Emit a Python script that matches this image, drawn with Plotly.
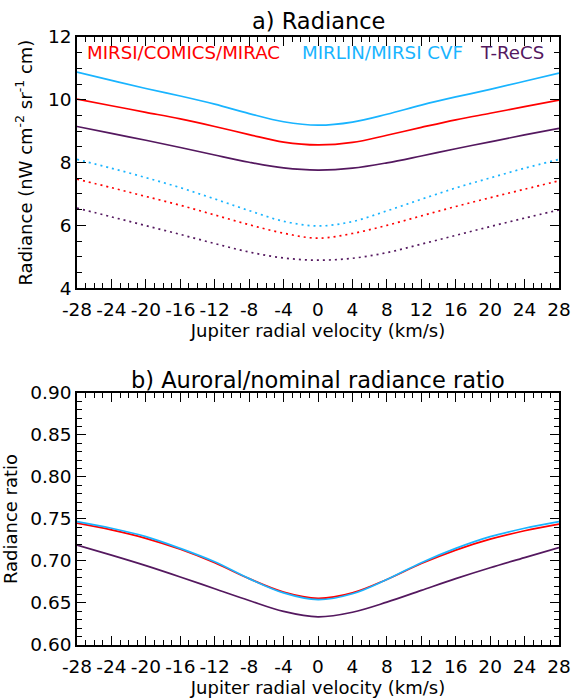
import plotly.graph_objects as go

# Jupiter radial velocity (km/s)
velocity = [-28, -24, -20, -16, -12, -8, -4, 0, 4, 8, 12, 16, 20, 24, 28]

# a) Radiance (nW cm^-2 sr^-1 cm): solid (upper set) and dotted (lower set)
mirsi_solid = [10.02, 9.81, 9.60, 9.39, 9.15, 8.89, 8.65, 8.56, 8.64, 8.87, 9.12, 9.36, 9.57, 9.78, 9.99]
mirlin_solid = [10.88, 10.62, 10.36, 10.12, 9.86, 9.56, 9.30, 9.19, 9.29, 9.54, 9.83, 10.09, 10.33, 10.59, 10.85]
trecs_solid = [9.15, 8.93, 8.71, 8.48, 8.24, 8.01, 7.83, 7.76, 7.82, 7.99, 8.21, 8.44, 8.66, 8.88, 9.09]

mirsi_dot = [7.47, 7.20, 6.92, 6.64, 6.33, 6.02, 5.75, 5.59, 5.74, 6.00, 6.30, 6.60, 6.88, 7.15, 7.42]
mirlin_dot = [8.10, 7.82, 7.52, 7.20, 6.84, 6.47, 6.13, 5.98, 6.12, 6.46, 6.83, 7.19, 7.51, 7.82, 8.10]
trecs_dot = [6.55, 6.27, 5.99, 5.71, 5.42, 5.15, 4.96, 4.89, 4.95, 5.13, 5.40, 5.68, 5.96, 6.23, 6.49]

# b) Auroral/nominal radiance ratio
mirsi_ratio = [0.745, 0.737, 0.727, 0.714, 0.698, 0.679, 0.663, 0.6555, 0.662, 0.678, 0.697, 0.713, 0.726, 0.736, 0.744]
mirlin_ratio = [0.747, 0.739, 0.729, 0.715, 0.699, 0.679, 0.662, 0.654, 0.661, 0.678, 0.698, 0.715, 0.729, 0.739, 0.747]
trecs_ratio = [0.719, 0.707, 0.6945, 0.681, 0.667, 0.653, 0.640, 0.6335, 0.639, 0.651, 0.665, 0.679, 0.692, 0.704, 0.716]

x_ticks = [-28, -24, -20, -16, -12, -8, -4, 0, 4, 8, 12, 16, 20, 24, 28]
y1_ticks = [4, 6, 8, 10, 12]
y2_ticks = [0.60, 0.65, 0.70, 0.75, 0.80, 0.85, 0.90]

legend_labels = ["MIRSI/COMICS/MIRAC", "MIRLIN/MIRSI CVF", "T-ReCS"]

RED = "#FF0000"
CYAN = "#19B4FF"
PURPLE = "#54185F"
FONT = "DejaVu Sans, Verdana, sans-serif"
TICK_SIZE = 18.5
TITLE_SIZE = 18
HEAD_SIZE = 22.5
LEG_SIZE = 18.2

fig = go.Figure()


def add(y, color, dash, xa, ya):
    fig.add_trace(go.Scatter(x=velocity, y=y, mode="lines",
                             line=dict(color=color, width=1.7, dash=dash, shape="spline", smoothing=1.0),
                             xaxis=xa, yaxis=ya, showlegend=False, hoverinfo="skip"))


DOT = "2px,4px"
add(mirlin_solid, CYAN, "solid", "x", "y")
add(mirsi_solid, RED, "solid", "x", "y")
add(trecs_solid, PURPLE, "solid", "x", "y")
add(mirlin_dot, CYAN, DOT, "x", "y")
add(mirsi_dot, RED, DOT, "x", "y")
add(trecs_dot, PURPLE, DOT, "x", "y")

add(mirsi_ratio, RED, "solid", "x2", "y2")
add(mirlin_ratio, CYAN, "solid", "x2", "y2")
add(trecs_ratio, PURPLE, "solid", "x2", "y2")

axis_common = dict(
    showline=True, linecolor="black", linewidth=1.5, mirror="allticks",
    ticks="inside", ticklen=9, tickwidth=1.2, tickcolor="black",
    showgrid=False, zeroline=False, automargin=False,
    tickfont=dict(family=FONT, size=TICK_SIZE, color="black"),
)

xaxis_common = dict(axis_common, range=[-28, 28], tickvals=x_ticks,
                    ticktext=[str(v) for v in x_ticks],
                    ticklabelstandoff=4,
                    minor=dict(dtick=1, ticklen=5, tickwidth=1, tickcolor="black", ticks="inside"),
                    title=dict(text="Jupiter radial velocity (km/s)",
                               font=dict(family=FONT, size=TITLE_SIZE, color="black"), standoff=0))

fig.update_layout(
    width=582, height=699,
    margin=dict(l=77, r=23, t=37, b=54),
    paper_bgcolor="white", plot_bgcolor="white",
    font=dict(family=FONT, color="black"),
    xaxis=dict(xaxis_common, domain=[0, 1], anchor="y"),
    yaxis=dict(axis_common, domain=[0.587, 1.0], anchor="x", range=[4, 12],
               tickvals=y1_ticks, ticktext=[str(v) for v in y1_ticks],
               minor=dict(dtick=0.5, ticklen=5, tickwidth=1, tickcolor="black", ticks="inside"),
               title=dict(text="Radiance (nW cm<sup>-2</sup> sr<sup>-1</sup> cm)",
                          font=dict(family=FONT, size=TITLE_SIZE, color="black"), standoff=11)),
    xaxis2=dict(xaxis_common, domain=[0, 1], anchor="y2"),
    yaxis2=dict(axis_common, domain=[0.0, 0.4145], anchor="x2", range=[0.60, 0.90],
                tickvals=y2_ticks, ticktext=["%.2f" % v for v in y2_ticks],
                minor=dict(dtick=0.01, ticklen=5, tickwidth=1, tickcolor="black", ticks="inside"),
                title=dict(text="Radiance ratio",
                           font=dict(family=FONT, size=TITLE_SIZE, color="black"), standoff=15)),
)

annotations = [
    dict(text="a) Radiance", xref="paper", yref="paper", x=0.5, y=1.0, yshift=16,
         xanchor="center", yanchor="middle", showarrow=False,
         font=dict(family=FONT, size=HEAD_SIZE, color="black")),
    dict(text="b) Auroral/nominal radiance ratio", xref="paper", yref="paper", x=0.5, y=0.4145, yshift=13,
         xanchor="center", yanchor="middle", showarrow=False,
         font=dict(family=FONT, size=HEAD_SIZE, color="black")),
    dict(text=legend_labels[0], xref="x", yref="y", x=-27.1, y=11.50,
         xanchor="left", yanchor="middle", showarrow=False,
         font=dict(family=FONT, size=LEG_SIZE, color=RED)),
    dict(text=legend_labels[1], xref="x", yref="y", x=-2.1, y=11.50,
         xanchor="left", yanchor="middle", showarrow=False,
         font=dict(family=FONT, size=LEG_SIZE, color=CYAN)),
    dict(text=legend_labels[2], xref="x", yref="y", x=18.6, y=11.50,
         xanchor="left", yanchor="middle", showarrow=False,
         font=dict(family=FONT, size=LEG_SIZE, color=PURPLE)),
]
fig.update_layout(annotations=annotations)

# Remove the default 8 px page margin so the figure sits at the window's origin.
fig.write_html("out.html", config={"displayModeBar": False},
               post_script="document.body.style.margin='0';")
